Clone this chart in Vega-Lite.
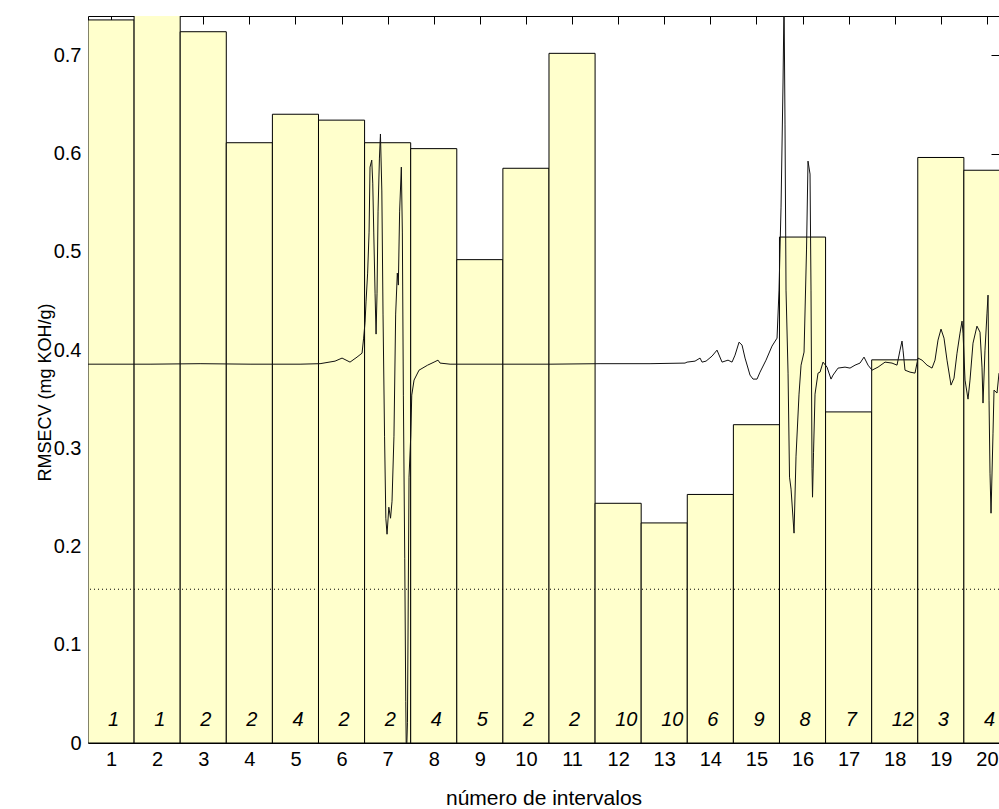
{
  "$schema": "https://vega.github.io/schema/vega-lite/v6.json",
  "autosize": "none",
  "padding": {"left": 88, "top": 16, "right": 0, "bottom": 66},
  "width": 911,
  "height": 727,
  "background": "white",
  "config": {
    "view": {"stroke": null},
    "font": "Liberation Sans",
    "scale": {"continuousPadding": 0},
    "axis": {"grid": false, "domainColor": "#000", "tickColor": "#000", "labelColor": "#000", "titleColor": "#000", "labelFont": "Liberation Sans", "titleFont": "Liberation Sans", "titleFontWeight": "normal", "domainWidth": 1, "tickWidth": 1}
  },
  "datasets": {
    "bars": [
      {"n": 1, "rmsecv": 0.736, "k": "1"},
      {"n": 2, "rmsecv": 0.742, "k": "1"},
      {"n": 3, "rmsecv": 0.724, "k": "2"},
      {"n": 4, "rmsecv": 0.611, "k": "2"},
      {"n": 5, "rmsecv": 0.640, "k": "4"},
      {"n": 6, "rmsecv": 0.634, "k": "2"},
      {"n": 7, "rmsecv": 0.611, "k": "2"},
      {"n": 8, "rmsecv": 0.605, "k": "4"},
      {"n": 9, "rmsecv": 0.492, "k": "5"},
      {"n": 10, "rmsecv": 0.585, "k": "2"},
      {"n": 11, "rmsecv": 0.702, "k": "2"},
      {"n": 12, "rmsecv": 0.244, "k": "10"},
      {"n": 13, "rmsecv": 0.224, "k": "10"},
      {"n": 14, "rmsecv": 0.253, "k": "6"},
      {"n": 15, "rmsecv": 0.324, "k": "9"},
      {"n": 16, "rmsecv": 0.515, "k": "8"},
      {"n": 17, "rmsecv": 0.337, "k": "7"},
      {"n": 18, "rmsecv": 0.390, "k": "12"},
      {"n": 19, "rmsecv": 0.596, "k": "3"},
      {"n": 20, "rmsecv": 0.583, "k": "4"}
    ],
    "ref": [{"level": 0.1565}],
    "curve": [
      {"x": 0.501, "y": 0.3856}, {"x": 1.846, "y": 0.3856}, {"x": 2.931, "y": 0.3861}, {"x": 4.015, "y": 0.3856},
      {"x": 5.100, "y": 0.3856}, {"x": 5.534, "y": 0.3861}, {"x": 5.859, "y": 0.3887}, {"x": 6.011, "y": 0.3918},
      {"x": 6.184, "y": 0.3877}, {"x": 6.336, "y": 0.3928}, {"x": 6.445, "y": 0.3968}, {"x": 6.479, "y": 0.4121},
      {"x": 6.510, "y": 0.4284}, {"x": 6.532, "y": 0.4498}, {"x": 6.566, "y": 0.4783}, {"x": 6.597, "y": 0.5200},
      {"x": 6.618, "y": 0.5862}, {"x": 6.655, "y": 0.5933}, {"x": 6.677, "y": 0.5699}, {"x": 6.699, "y": 0.5201},
      {"x": 6.727, "y": 0.4579}, {"x": 6.749, "y": 0.4162}, {"x": 6.770, "y": 0.4579}, {"x": 6.792, "y": 0.5414},
      {"x": 6.822, "y": 0.5954}, {"x": 6.844, "y": 0.6199}, {"x": 6.874, "y": 0.5619}, {"x": 6.900, "y": 0.4366},
      {"x": 6.933, "y": 0.3123}, {"x": 6.961, "y": 0.2288}, {"x": 6.987, "y": 0.2125}, {"x": 7.026, "y": 0.2400},
      {"x": 7.063, "y": 0.2288}, {"x": 7.095, "y": 0.2461}, {"x": 7.137, "y": 0.3123}, {"x": 7.174, "y": 0.4366},
      {"x": 7.210, "y": 0.4783}, {"x": 7.232, "y": 0.4661}, {"x": 7.260, "y": 0.5414}, {"x": 7.297, "y": 0.5862},
      {"x": 7.319, "y": 0.5201}, {"x": 7.341, "y": 0.3541}, {"x": 7.371, "y": 0.1881}, {"x": 7.393, "y": 0.0425},
      {"x": 7.406, "y": -0.0176}, {"x": 7.430, "y": 0.0211}, {"x": 7.464, "y": 0.2706}, {"x": 7.501, "y": 0.3123},
      {"x": 7.523, "y": 0.3541}, {"x": 7.573, "y": 0.3694}, {"x": 7.681, "y": 0.3795}, {"x": 7.868, "y": 0.3846},
      {"x": 8.007, "y": 0.3877}, {"x": 8.093, "y": 0.3897}, {"x": 8.137, "y": 0.3867}, {"x": 8.354, "y": 0.3856},
      {"x": 9.438, "y": 0.3856}, {"x": 10.523, "y": 0.3856}, {"x": 11.607, "y": 0.3861}, {"x": 12.692, "y": 0.3861},
      {"x": 13.451, "y": 0.3867}, {"x": 13.495, "y": 0.3877}, {"x": 13.668, "y": 0.3887}, {"x": 13.777, "y": 0.3918},
      {"x": 13.820, "y": 0.3877}, {"x": 13.907, "y": 0.3887}, {"x": 14.037, "y": 0.3938}, {"x": 14.145, "y": 0.3999},
      {"x": 14.254, "y": 0.3877}, {"x": 14.384, "y": 0.3897}, {"x": 14.471, "y": 0.3877}, {"x": 14.536, "y": 0.3948},
      {"x": 14.623, "y": 0.4080}, {"x": 14.688, "y": 0.4050}, {"x": 14.753, "y": 0.3918}, {"x": 14.861, "y": 0.3745},
      {"x": 14.926, "y": 0.3704}, {"x": 15.013, "y": 0.3704}, {"x": 15.078, "y": 0.3775}, {"x": 15.208, "y": 0.3897},
      {"x": 15.338, "y": 0.4040}, {"x": 15.447, "y": 0.4121}, {"x": 15.490, "y": 0.4610}, {"x": 15.534, "y": 0.5455},
      {"x": 15.577, "y": 0.6718}, {"x": 15.599, "y": 0.7563}, {"x": 15.620, "y": 0.6300}, {"x": 15.642, "y": 0.4610},
      {"x": 15.686, "y": 0.3765}, {"x": 15.718, "y": 0.2706}, {"x": 15.751, "y": 0.2584}, {"x": 15.816, "y": 0.2136},
      {"x": 15.859, "y": 0.2920}, {"x": 15.924, "y": 0.3551}, {"x": 15.968, "y": 0.3846}, {"x": 16.033, "y": 0.3979},
      {"x": 16.087, "y": 0.5028}, {"x": 16.119, "y": 0.5923}, {"x": 16.163, "y": 0.5791}, {"x": 16.184, "y": 0.4610},
      {"x": 16.206, "y": 0.2797}, {"x": 16.217, "y": 0.2502}, {"x": 16.239, "y": 0.2960}, {"x": 16.271, "y": 0.3551},
      {"x": 16.336, "y": 0.3765}, {"x": 16.380, "y": 0.3775}, {"x": 16.445, "y": 0.3877}, {"x": 16.531, "y": 0.3826},
      {"x": 16.618, "y": 0.3704}, {"x": 16.662, "y": 0.3745}, {"x": 16.770, "y": 0.3816}, {"x": 16.922, "y": 0.3826},
      {"x": 17.030, "y": 0.3816}, {"x": 17.139, "y": 0.3846}, {"x": 17.247, "y": 0.3867}, {"x": 17.334, "y": 0.3928},
      {"x": 17.421, "y": 0.3846}, {"x": 17.508, "y": 0.3795}, {"x": 17.638, "y": 0.3826}, {"x": 17.790, "y": 0.3877},
      {"x": 17.941, "y": 0.3867}, {"x": 18.050, "y": 0.3846}, {"x": 18.115, "y": 0.3999}, {"x": 18.158, "y": 0.4091},
      {"x": 18.180, "y": 0.3999}, {"x": 18.223, "y": 0.3795}, {"x": 18.332, "y": 0.3775}, {"x": 18.440, "y": 0.3765},
      {"x": 18.505, "y": 0.3918}, {"x": 18.592, "y": 0.3897}, {"x": 18.701, "y": 0.3846}, {"x": 18.809, "y": 0.3816},
      {"x": 18.874, "y": 0.3897}, {"x": 18.939, "y": 0.4101}, {"x": 19.004, "y": 0.4213}, {"x": 19.069, "y": 0.4121},
      {"x": 19.134, "y": 0.3897}, {"x": 19.221, "y": 0.3643}, {"x": 19.286, "y": 0.3714}, {"x": 19.351, "y": 0.3968},
      {"x": 19.416, "y": 0.4172}, {"x": 19.460, "y": 0.4294}, {"x": 19.482, "y": 0.4172}, {"x": 19.525, "y": 0.3694},
      {"x": 19.590, "y": 0.3500}, {"x": 19.633, "y": 0.3694}, {"x": 19.698, "y": 0.4070}, {"x": 19.784, "y": 0.4243},
      {"x": 19.850, "y": 0.4182}, {"x": 19.893, "y": 0.3826}, {"x": 19.915, "y": 0.3460}, {"x": 19.958, "y": 0.3999},
      {"x": 20.002, "y": 0.4376}, {"x": 20.024, "y": 0.4559}, {"x": 20.046, "y": 0.3490}, {"x": 20.067, "y": 0.2747},
      {"x": 20.089, "y": 0.2339}, {"x": 20.132, "y": 0.3154}, {"x": 20.154, "y": 0.3592}, {"x": 20.219, "y": 0.3562},
      {"x": 20.262, "y": 0.3765}
    ]
  },
  "layer": [
    {
      "data": {"name": "bars"},
      "mark": {"type": "bar", "width": 46.1, "fill": "#FFFFCC", "stroke": "#000", "strokeWidth": 1, "clip": true},
      "encoding": {
        "x": {
          "field": "n", "type": "quantitative",
          "scale": {"domain": [0.5, 20.262], "nice": false, "zero": false, "padding": 0},
          "axis": {"orient": "bottom", "values": [1,2,3,4,5,6,7,8,9,10,11,12,13,14,15,16,17,18,19,20], "ticks": false, "labelFontSize": 20, "labelPadding": 6, "labelFlush": false, "title": "número de intervalos", "titleFontSize": 21, "titlePadding": 18}
        },
        "y": {
          "field": "rmsecv", "type": "quantitative",
          "scale": {"domain": [0, 0.74], "nice": false, "zero": true, "padding": 0},
          "axis": {"orient": "left", "values": [0, 0.1, 0.2, 0.3, 0.4, 0.5, 0.6, 0.7], "format": "~g", "ticks": false, "labelFontSize": 20, "labelPadding": 7, "labelFlush": false, "title": "RMSECV (mg KOH/g)", "titleFontSize": 18, "titlePadding": -1, "titleY": 376}
        }
      }
    },
    {
      "data": {"name": "ref"},
      "mark": {"type": "rule", "strokeDash": [1, 3], "color": "#000", "strokeWidth": 1},
      "encoding": {
        "y": {"field": "level", "type": "quantitative", "axis": null}
      }
    },
    {
      "data": {"name": "curve"},
      "mark": {"type": "line", "clip": true, "color": "#111", "strokeWidth": 1, "interpolate": "linear"},
      "encoding": {
        "x": {"field": "x", "type": "quantitative", "axis": {"orient": "top", "values": [1,2,3,4,5,6,7,8,9,10,11,12,13,14,15,16,17,18,19,20], "labels": false, "title": null, "tickSize": -8, "domain": true}},
        "y": {"field": "y", "type": "quantitative", "axis": {"orient": "right", "values": [0, 0.1, 0.2, 0.3, 0.4, 0.5, 0.6, 0.7], "labels": false, "title": null, "tickSize": -8, "domain": false}}
      }
    },
    {
      "data": {"name": "bars"},
      "mark": {"type": "text", "fontStyle": "italic", "fontSize": 20, "align": "left", "baseline": "middle", "dx": -3, "color": "#000"},
      "encoding": {
        "x": {"field": "n", "type": "quantitative", "axis": null},
        "y": {"datum": 0.023, "type": "quantitative", "axis": null},
        "text": {"field": "k"}
      }
    }
  ],
  "resolve": {"axis": {"x": "independent", "y": "independent"}}
}
